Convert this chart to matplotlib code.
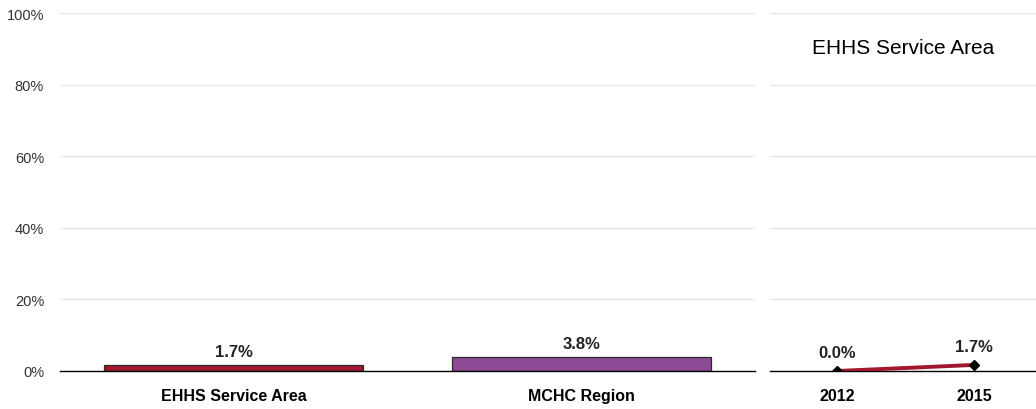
import matplotlib
matplotlib.use("Agg")
import matplotlib.pyplot as plt
from matplotlib.ticker import FuncFormatter

plt.rcParams['font.family'] = ['Liberation Sans', 'DejaVu Sans']

categories = ["EHHS Service Area", "MCHC Region"]
bar_values = [0.017, 0.038]
bar_colors = ["#A3162F", "#8C4B94"]

years = ["2012", "2015"]
trend_values = [0.0, 0.017]
trend_title = "EHHS Service Area"

yticks = [0, 0.2, 0.4, 0.6, 0.8, 1.0]

W, H = 1036, 410
fig = plt.figure(figsize=(W / 100, H / 100), dpi=100)

def fx(px):
    return px / W

def fy(py):
    return (H - py) / H

grid_color = "#E8E8E8"

# Left bar axes
ax1 = fig.add_axes([fx(60), fy(372), fx(755) - fx(60), fy(14) - fy(372)])
xs = list(range(len(categories)))
ax1.bar(xs, bar_values, width=0.745, color=bar_colors, edgecolor="#2b2b2b", linewidth=0.9, zorder=3)
ax1.set_xlim(-0.5, 1.5)
ax1.set_ylim(0, 1)
ax1.set_yticks(yticks)
ax1.yaxis.set_major_formatter(FuncFormatter(lambda v, p: f"{v*100:.0f}%"))
ax1.set_xticks(xs)
ax1.set_xticklabels(categories, fontsize=11.5, fontweight="bold")
ax1.tick_params(axis="x", length=0, pad=12)
ax1.tick_params(axis="y", length=0, pad=11.5, labelsize=10.5, labelcolor="#333333")
ax1.grid(axis="y", color=grid_color, linewidth=1, zorder=0)
for s in ["left", "right", "top"]:
    ax1.spines[s].set_visible(False)
ax1.spines["bottom"].set_color("black")
ax1.spines["bottom"].set_linewidth(1)
ax1.spines["bottom"].set_zorder(4)
for x, v in zip(xs, bar_values):
    ax1.annotate(f"{v*100:.1f}%", (x, v), xytext=(0, 4.5), textcoords="offset points",
                 ha="center", va="bottom", fontsize=12, fontweight="bold", color="#222222")

# Right trend axes
ax2 = fig.add_axes([fx(770), fy(372), fx(1036) - fx(770), fy(14) - fy(372)])
xt = list(range(len(years)))
ax2.plot(xt, trend_values, color="#A3162F", linewidth=2.8, zorder=3)
ax2.plot(xt, trend_values, linestyle="none", marker="D", markersize=5, color="black", zorder=4)
ax2.set_xlim(-0.49, 1.45)
ax2.set_ylim(0, 1)
ax2.set_yticks(yticks)
ax2.set_yticklabels([])
ax2.set_xticks(xt)
ax2.set_xticklabels(years, fontsize=11.5, fontweight="bold")
ax2.tick_params(axis="x", length=0, pad=12)
ax2.tick_params(axis="y", length=0)
ax2.grid(axis="y", color=grid_color, linewidth=1, zorder=0)
for s in ["left", "right", "top"]:
    ax2.spines[s].set_visible(False)
ax2.spines["bottom"].set_color("black")
ax2.spines["bottom"].set_linewidth(1)
for x, v in zip(xt, trend_values):
    ax2.annotate(f"{v*100:.1f}%", (x, v), xytext=(0, 8), textcoords="offset points",
                 ha="center", va="bottom", fontsize=12, fontweight="bold", color="#222222")
ax2.text(0.5, 0.903, trend_title, transform=ax2.transAxes, ha="center", va="center",
         fontsize=15, color="#000000")

fig.savefig("out.png", dpi=100)
